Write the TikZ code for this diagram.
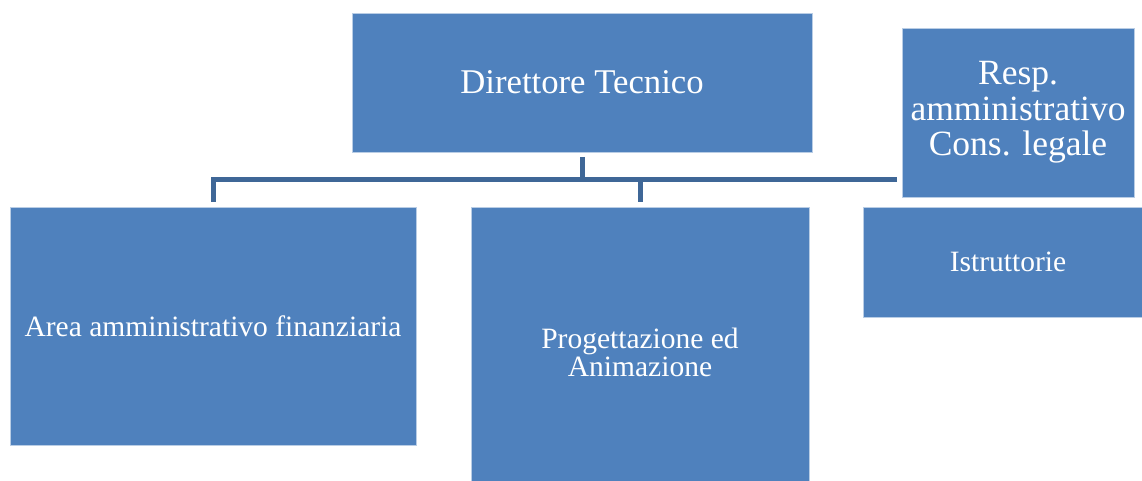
\documentclass[tikz,border=0pt]{standalone}
\usepackage{fontspec}
\setmainfont{Liberation Serif}
\definecolor{boxblue}{HTML}{4F81BD}
\definecolor{linkblue}{HTML}{3F6797}
\begin{document}
\begin{tikzpicture}[x=1pt,y=-1pt,
  unit/.style={rectangle, fill=boxblue, draw=white!60!boxblue, line width=0.6pt,
    text=white, align=center, inner sep=0pt, outer sep=0pt},
  link/.style={draw=linkblue, line width=5pt, line join=miter}]
\useasboundingbox (0,0) rectangle (1142,481);
\node[unit, minimum width=460pt, minimum height=139pt,
  font=\fontsize{34.7}{40}\selectfont] (dir) at (582,82.5) {Direttore Tecnico};
\node[unit, minimum width=232pt, minimum height=169pt,
  font=\fontsize{35.5}{35.5}\selectfont] (resp) at (1018,112.5)
  {Resp.\\amministrativo\\Cons. legale};
\node[unit, minimum width=406pt, minimum height=238pt,
  font=\fontsize{29.5}{34}\selectfont] (area) at (213,326)
  {Area amministrativo finanziaria};
\node[unit, minimum width=338pt, minimum height=290pt,
  font=\fontsize{29.5}{28}\selectfont] (prog) at (640,352)
  {Progettazione ed\\Animazione};
\node[unit, minimum width=290pt, minimum height=110pt,
  font=\fontsize{29.5}{34}\selectfont] (istr) at (1008,262) {Istruttorie};
\coordinate (hL) at (213,180);
\coordinate (hR) at (897,180);
\draw[link] (hR) -- (hL) -- ([yshift=5pt]area.north);
\draw[link] ([yshift=-5pt]dir.south) -- (dir.south |- hL);
\draw[link] (prog.north |- hL) -- ([yshift=5pt]prog.north);
\end{tikzpicture}
\end{document}
